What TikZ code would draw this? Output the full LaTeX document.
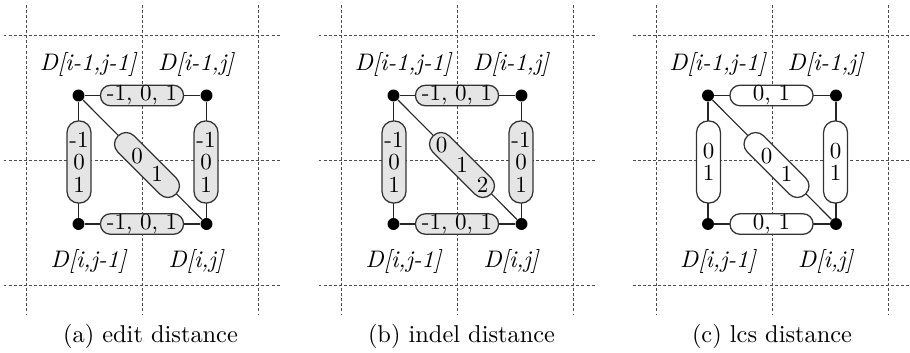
\documentclass[tikz,border=0pt]{standalone}
\begin{document}
\begin{tikzpicture}[x=0.435pt,y=-0.435pt,
  gridln/.style={draw=black!70, line width=0.4pt, dash pattern=on 1.3pt off 0.9pt},
  conn/.style={draw=black!85, line width=0.5pt},
  dotn/.style={circle, fill=black, draw=none, inner sep=0pt, minimum size=5.2pt},
  txt/.style={font=\fontsize{10}{12}\selectfont},
  boxbase/.style={draw=black!80, line width=0.55pt, inner sep=0pt, font=\fontsize{10}{9.8}\selectfont},
  grayfill/.style={fill=black!10},
  whitefill/.style={fill=white},
  hbox/.style={boxbase, rectangle, rounded corners=4.3pt, minimum width=36.1pt, minimum height=8.9pt},
  vbox/.style={boxbase, rectangle, rounded corners=5pt, minimum width=10.4pt, minimum height=35.7pt, align=center},
  dbox/.style={boxbase, rectangle, rounded corners=4.9pt, minimum width=35.7pt, minimum height=10pt, rotate=-45},
  lab/.style={font=\fontsize{10.4}{12.5}\selectfont\itshape, inner sep=0pt},
  digit/.style={txt, inner sep=0pt},
  capt/.style={font=\fontsize{10.6}{12.7}\selectfont, inner sep=0pt}
]
\useasboundingbox (0,0) rectangle (910,352);

\newcommand\mypanel[7]{%
  \foreach \gx in {-116,0,116} {\draw[gridln] ({#1+(\gx)},5) -- ({#1+(\gx)},315);}
  \foreach \gy in {35,160,285} {\draw[gridln] ({#1-139},\gy) -- ({#1+138},\gy);}
  \node[dotn] (#2tl) at ({#1-64},95.5) {};
  \node[dotn] (#2tr) at ({#1+64},95.5) {};
  \node[dotn] (#2bl) at ({#1-64},224) {};
  \node[dotn] (#2br) at ({#1+64},224) {};
  \draw[conn] (#2tl) -- (#2tr);
  \draw[conn] (#2bl) -- (#2br);
  \draw[conn] (#2tl) -- (#2bl);
  \draw[conn] (#2tr) -- (#2br);
  \draw[conn] (#2tl) -- (#2br);
  \node[hbox,#3] (#2top) at ({#1-0.5},95.5) {#4};
  \node[hbox,#3] (#2bot) at ({#1-0.5},224) {#4};
  \node[vbox,#3] (#2lft) at ({#1-63.5},162) {#5};
  \node[vbox,#3] (#2rgt) at ({#1+63.5},162) {#5};
  \node[dbox,#3] (#2diag) at ({#1+4.5},165) {};
  \node[lab] (#2ltl) at ({#1-54.5},65) {D[i-1,j-1]};
  \node[lab] (#2ltr) at ({#1+53.5},65) {D[i-1,j]};
  \node[lab] (#2lbl) at ({#1-54},262) {D[i,j-1]};
  \node[lab] (#2lbr) at ({#1+53.5},262) {D[i,j]};
  \node[capt] (#2cap) at ({#1+#7},336) {#6};
}

\mypanel{142.5}{a}{grayfill}{-1, 0, 1}{-1\\0\\1}{(a) edit distance}{8}
\node[digit] (ad0) at ({142.5+4.5-10},{165-9}) {0};
\node[digit] (ad1) at ({142.5+4.5+10},{165+9}) {1};

\mypanel{457.5}{b}{grayfill}{-1, 0, 1}{-1\\0\\1}{(b) indel distance}{4}
\node[digit] (bd0) at ({457.5+4.5-20.5},{165-19.5}) {0};
\node[digit] (bd1) at ({457.5+4.5},{165}) {1};
\node[digit] (bd2) at ({457.5+4.5+20.5},{165+19.5}) {2};

\mypanel{772}{c}{whitefill}{0, 1}{0\\1}{(c) lcs distance}{0}
\node[digit] (cd0) at ({772+4.5-10},{165-9}) {0};
\node[digit] (cd1) at ({772+4.5+10},{165+9}) {1};
\end{tikzpicture}
\end{document}
